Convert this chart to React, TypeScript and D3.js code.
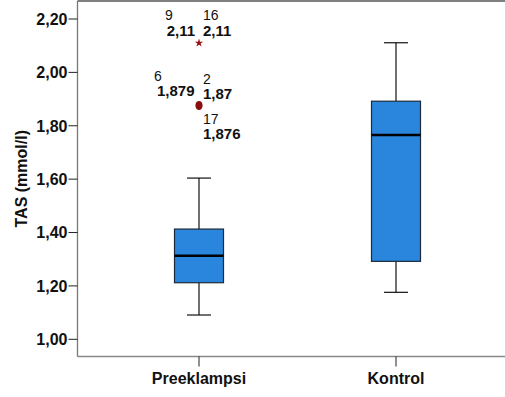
import React from "react";
import * as d3 from "d3";

const categories = ["Preeklampsi", "Kontrol"];
const whiskerLow = [1.091, 1.176];
const q1 = [1.212, 1.292];
const median = [1.313, 1.765];
const q3 = [1.413, 1.892];
const whiskerHigh = [1.604, 2.111];
const yTicks = [1.0, 1.2, 1.4, 1.6, 1.8, 2.0, 2.2];

// outliers (Preeklampsi)
const extremeValues = [2.11];
const outlierValues = [1.876];
const extremeLabels = [
  { id: "9", value: "2,11", side: "left" },
  { id: "16", value: "2,11", side: "right" },
];
const outlierLabels = [
  { id: "6", value: "1,879", side: "left", dy: -1 },
  { id: "2", value: "1,87", side: "right", dy: 2 },
  { id: "17", value: "1,876", side: "right", dy: 0, below: true },
];

const W = 505;
const H = 397;
const left = 77.5;
const top = 1;
const bottom = 356.5;
const right = 510;

export default function App() {
  const y = d3.scaleLinear().domain([1.0, 2.2]).range([339.3, 19]);
  const x = d3.scaleBand().domain(categories).range([100.5, 494.5]).paddingInner(0).paddingOuter(0);
  const cx = (c: string) => (x(c) ?? 0) + x.bandwidth() / 2;
  const boxW = 49;
  const capW = 24;
  const font = "'Liberation Sans', Arial, sans-serif";

  return (
    <svg width={W} height={H} style={{ position: "absolute", left: 0, top: 0, background: "#fff" }} fontFamily={font}>
      <rect x={0} y={0} width={W} height={H} fill="#fff" />
      {/* frame */}
      <line x1={left} x2={right} y1={top} y2={top} stroke="#555" strokeWidth={1.5} />
      <line x1={left} x2={right} y1={bottom} y2={bottom} stroke="#888" strokeWidth={1.5} />
      <line x1={left} x2={left} y1={top} y2={bottom} stroke="#777" strokeWidth={1.3} />
      {/* y ticks */}
      {yTicks.map((t) => (
        <g key={t}>
          <line x1={left - 9} x2={left} y1={y(t)} y2={y(t)} stroke="#222" strokeWidth={1} />
          <text x={left - 10} y={y(t)} dy="0.36em" textAnchor="end" fontSize={16} fontWeight="bold" fill="#111">
            {d3.format(".2f")(t).replace(".", ",")}
          </text>
        </g>
      ))}
      <text
        transform={`translate(21,${(top + bottom) / 2}) rotate(-90)`}
        textAnchor="middle"
        dy="0.36em"
        fontSize={16}
        fontWeight="bold"
        fill="#111"
      >
        TAS (mmol/l)
      </text>
      {/* x ticks */}
      {categories.map((c) => (
        <g key={c}>
          <line x1={cx(c)} x2={cx(c)} y1={bottom} y2={bottom + 10} stroke="#222" strokeWidth={1} />
          <text x={cx(c)} y={384} textAnchor="middle" fontSize={16} fontWeight="bold" fill="#111">
            {c}
          </text>
        </g>
      ))}
      {/* boxes */}
      {categories.map((c, i) => {
        const m = cx(c);
        return (
          <g key={c}>
            <line x1={m} x2={m} y1={y(whiskerHigh[i])} y2={y(q3[i])} stroke="#111" strokeWidth={1.2} />
            <line x1={m} x2={m} y1={y(q1[i])} y2={y(whiskerLow[i])} stroke="#111" strokeWidth={1.2} />
            <line x1={m - capW / 2} x2={m + capW / 2} y1={y(whiskerHigh[i])} y2={y(whiskerHigh[i])} stroke="#111" strokeWidth={1.2} />
            <line x1={m - capW / 2} x2={m + capW / 2} y1={y(whiskerLow[i])} y2={y(whiskerLow[i])} stroke="#111" strokeWidth={1.2} />
            <rect
              x={m - boxW / 2}
              y={y(q3[i])}
              width={boxW}
              height={y(q1[i]) - y(q3[i])}
              fill="#2a86dc"
              stroke="#1b2b3b"
              strokeWidth={1.2}
            />
            <line x1={m - boxW / 2} x2={m + boxW / 2} y1={y(median[i])} y2={y(median[i])} stroke="#000" strokeWidth={2.5} />
          </g>
        );
      })}
      {/* extreme star */}
      {extremeValues.map((v, i) => {
        const m = cx(categories[0]);
        const py = y(v);
        const star = d3.symbol(d3.symbolStar, 22)();
        return (
          <g key={"e" + i}>
            <path d={star ?? ""} transform={`translate(${m},${py})`} fill="#9b1010" />
            {extremeLabels.map((l) => {
              const isLeft = l.side === "left";
              const lx = isLeft ? m - 4 : m + 4;
              return (
                <g key={l.id}>
                  <text x={isLeft ? m - 34 : lx} y={py - 23.5} fontSize={14} fill="#111">
                    {l.id}
                  </text>
                  <text x={lx} y={py - 7} textAnchor={isLeft ? "end" : "start"} fontSize={15} fontWeight="bold" fill="#111">
                    {l.value}
                  </text>
                </g>
              );
            })}
          </g>
        );
      })}
      {/* outlier circle */}
      {outlierValues.map((v, i) => {
        const m = cx(categories[0]);
        const py = y(v);
        return (
          <g key={"o" + i}>
            <ellipse cx={m} cy={py} rx={3.6} ry={4.6} fill="#8a0c0c" />
            {outlierLabels.map((l) => {
              const isLeft = l.side === "left";
              const lx = isLeft ? m - 4.5 : m + 4;
              const baseNum = l.below ? py + 18.6 : py - 23 + l.dy;
              const baseVal = l.below ? py + 33.5 : py - 8 + l.dy;
              return (
                <g key={l.id}>
                  <text x={isLeft ? m - 45 : lx} y={baseNum} fontSize={14} fill="#111">
                    {l.id}
                  </text>
                  <text x={lx} y={baseVal} textAnchor={isLeft ? "end" : "start"} fontSize={15} fontWeight="bold" fill="#111">
                    {l.value}
                  </text>
                </g>
              );
            })}
          </g>
        );
      })}
    </svg>
  );
}
